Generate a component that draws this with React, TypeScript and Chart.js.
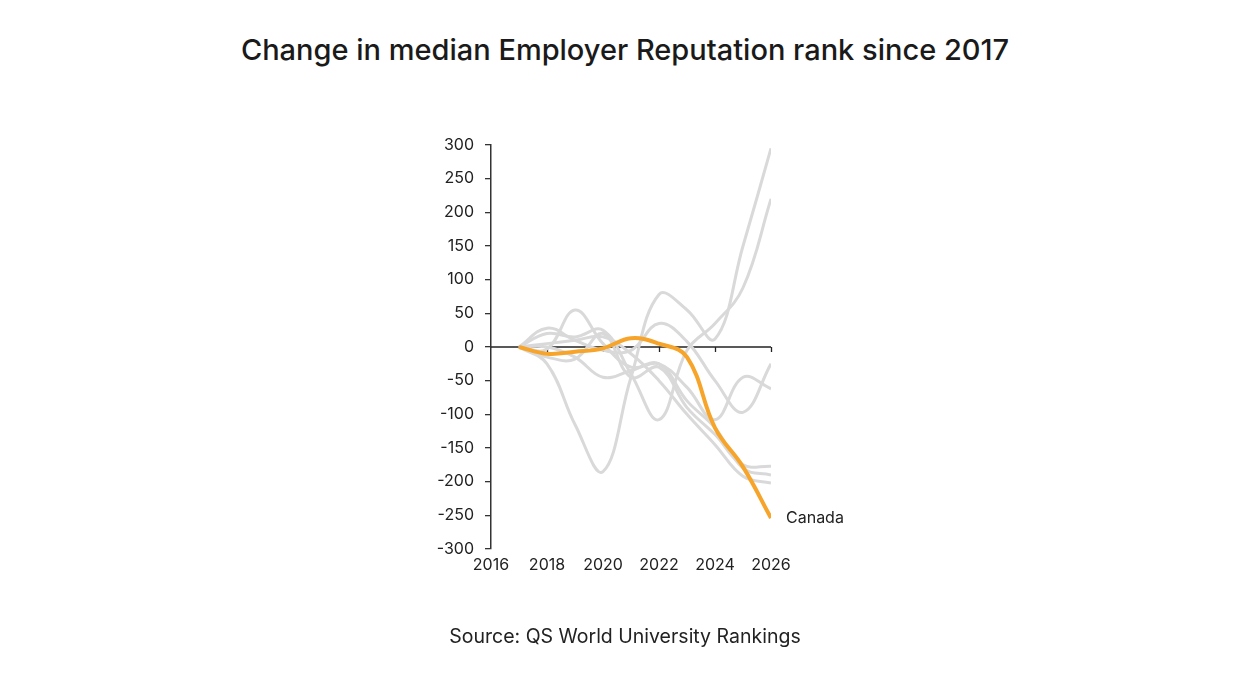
import React, { useEffect, useRef } from "react";
import { Chart, registerables } from "chart.js";

Chart.register(...registerables);

const years = [2017, 2018, 2019, 2020, 2021, 2022, 2023, 2024, 2025, 2026];

const grayA = [0, -25, -115, -185, -45, 78, 55, 12, 150, 295];
const grayB = [0, 20, 15, 25, -40, -108, -5, 35, 88, 220];
const grayC = [0, 28, 10, -5, -5, 35, 8, -50, -97, -25];
const grayD = [0, -3, 55, 5, -30, -25, -60, -108, -45, -62];
const grayE = [0, -15, -18, 20, -45, -30, -90, -130, -175, -177];
const grayF = [0, 0, -15, -45, -35, -25, -80, -120, -180, -190];
const grayG = [0, 5, 10, 15, -10, -50, -100, -145, -192, -202];
const canada = [0, -10, -7, -2, 13, 5, -15, -120, -178, -254];

const grays = [grayA, grayB, grayC, grayD, grayE, grayF, grayG];

const xTicks = [2016, 2018, 2020, 2022, 2024, 2026];
const yMin = -300;
const yMax = 300;
const yStep = 50;

const title = "Change in median Employer Reputation rank since 2017";
const source = "Source: QS World University Rankings";
const highlightLabel = "Canada";

const FONT = "Inter, 'Open Sans', sans-serif";

const toPoints = (vals: number[]) => years.map((y, i) => ({ x: y, y: vals[i] }));

export default function App() {
  const ref = useRef<HTMLCanvasElement | null>(null);

  useEffect(() => {
    if (!ref.current) return;

    const zeroLine = {
      id: "zeroLine",
      beforeDatasetsDraw(chart: any) {
        const { ctx, scales } = chart;
        const xs = scales.x;
        const ys = scales.y;
        const y0 = ys.getPixelForValue(0);
        ctx.save();
        ctx.strokeStyle = "#222";
        ctx.lineWidth = 1.5;
        ctx.beginPath();
        ctx.moveTo(xs.getPixelForValue(2016), y0);
        ctx.lineTo(xs.getPixelForValue(2026), y0);
        ctx.stroke();
        ctx.lineWidth = 1.3;
        xTicks.slice(1).forEach((t) => {
          const px = Math.round(xs.getPixelForValue(t)) + 0.5;
          ctx.beginPath();
          ctx.moveTo(px, y0);
          ctx.lineTo(px, y0 + 5);
          ctx.stroke();
        });
        ctx.restore();
      },
      afterDatasetsDraw(chart: any) {
        const { ctx, scales } = chart;
        const xs = scales.x;
        const ys = scales.y;
        const last = years.length - 1;
        const px = xs.getPixelForValue(years[last]);
        const py = ys.getPixelForValue(canada[last]);
        ctx.save();
        ctx.fillStyle = "#222";
        ctx.font = `16px ${FONT}`;
        ctx.textAlign = "left";
        ctx.textBaseline = "middle";
        ctx.fillText(highlightLabel, px + 15, py);
        ctx.restore();
      },
    };

    const datasets: any[] = grays.map((g, i) => ({
      label: "g" + i,
      data: toPoints(g),
      borderColor: "#d9d9d9",
      borderWidth: 3,
      pointRadius: 0,
      tension: 0.4,
      order: 1,
    }));
    datasets.push({
      label: highlightLabel,
      data: toPoints(canada),
      borderColor: "#f7a42a",
      borderWidth: 4,
      pointRadius: 0,
      tension: 0.4,
      order: 0,
    });

    const chart = new Chart(ref.current, {
      type: "line",
      data: { datasets },
      options: {
        animation: false,
        responsive: false,
        maintainAspectRatio: false,
        layout: { padding: { left: 431, right: 479, top: 145, bottom: 106 } },
        plugins: {
          legend: { display: false },
          tooltip: { enabled: false },
          title: { display: false },
        },
        scales: {
          x: {
            type: "linear",
            min: 2016,
            max: 2026,
            afterFit: (s: any) => {
              s.height = 30;
            },
            afterBuildTicks: (s: any) => {
              s.ticks = xTicks.map((v) => ({ value: v }));
            },
            grid: { display: false, drawTicks: false },
            border: { display: false },
            ticks: {
              padding: 7,
              color: "#222",
              font: { family: FONT, size: 16 },
              callback: (v: any) => String(v),
            },
          },
          y: {
            min: yMin,
            max: yMax,
            afterFit: (s: any) => {
              s.width = 60;
            },
            ticks: {
              stepSize: yStep,
              padding: 11,
              color: "#222",
              font: { family: FONT, size: 16 },
            },
            grid: {
              display: true,
              drawOnChartArea: false,
              drawTicks: true,
              tickLength: 6,
              color: "#333",
              lineWidth: 1.3,
            },
            border: { display: true, color: "#333", width: 1.5 },
          },
        },
      },
      plugins: [zeroLine],
    });

    return () => chart.destroy();
  }, []);

  return (
    <div style={{ position: "fixed", left: 0, top: 0, width: 1250, height: 685, background: "#fff" }}>
      <div
        style={{
          position: "absolute",
          left: 0,
          top: 30,
          width: 1250,
          textAlign: "center",
          fontFamily: FONT,
          fontSize: 29,
          fontWeight: 500,
          color: "#1a1a1a",
          lineHeight: "40px",
        }}
      >
        {title}
      </div>
      <canvas ref={ref} width={1250} height={685} style={{ position: "absolute", left: 0, top: 0, width: 1250, height: 685 }} />
      <div
        style={{
          position: "absolute",
          left: 0,
          top: 622,
          width: 1250,
          textAlign: "center",
          fontFamily: FONT,
          fontSize: 19.5,
          color: "#222",
          lineHeight: "28px",
        }}
      >
        {source}
      </div>
    </div>
  );
}
